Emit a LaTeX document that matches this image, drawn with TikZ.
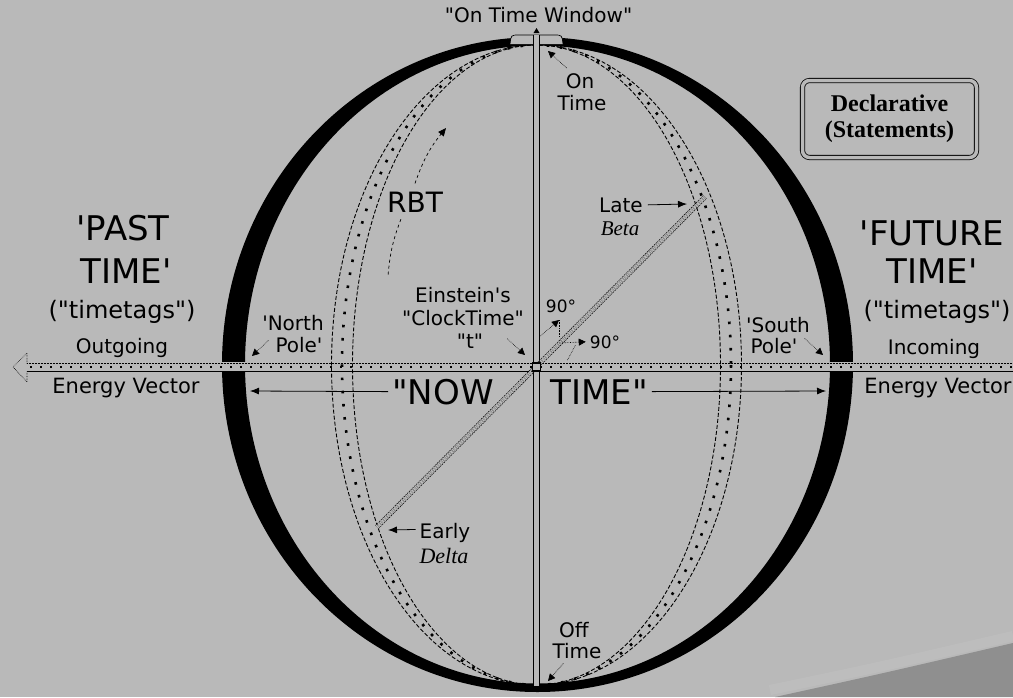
\documentclass[tikz,border=0pt]{standalone}
\usepackage{fontspec}
\setmainfont{DejaVu Sans}[Ligatures=TeXOff]
\newfontfamily\serifb{Liberation Serif}[Ligatures=TeXOff]
\usepackage{xcolor}
\usetikzlibrary{arrows.meta,positioning}
\definecolor{fond}{RGB}{185,185,185}
\definecolor{ombre}{RGB}{143,143,143}
\newcommand{\taille}[1]{\fontsize{#1}{#1}\selectfont}

\begin{document}
\begin{tikzpicture}[x=1pt,y=-1pt]
\tikzset{fleche/.style={-{Latex[length=9pt,width=7pt]}, line width=0.8pt},
  flecheP/.style={-{Triangle[length=7pt,width=7pt]}, densely dotted, line width=0.6pt},
  bord/.style={line width=0.9pt, dash pattern=on 4pt off 2pt},
  points/.style={line width=2.6pt, dash pattern=on 2.6pt off 10.6pt},
  etiq/.style={inner sep=0pt, anchor=base, font=\taille{20}},
  grand/.style={inner sep=0pt, anchor=base, font=\taille{34}}}
\useasboundingbox (0,0) rectangle (1013,697);
\fill[fond] (0,0) rectangle (1013,697);
\draw[white, opacity=0.07, line width=10pt] (770,690) .. controls (880,667) .. (1013,636);
\fill[ombre] (775,697) .. controls (880,674) .. (1013,643) -- (1013,697) -- cycle;
\fill[black, even odd rule] (537.5,364.5) ellipse [x radius=315.5, y radius=327.5]
  (537.5,364.5) ellipse [x radius=292.5, y radius=319];
\coordinate (axeG) at (27,367);
\coordinate (axeD) at (1013,367);
\coordinate (pointeG) at (13,367);
\draw[fond, line width=10pt] (axeG) -- (axeD);
\draw[bord] (536.5,365) ellipse [x radius=205, y radius=320];
\draw[bord] (536.5,365) ellipse [x radius=184, y radius=320];
\draw[points] (536.5,365) ellipse [x radius=194.5, y radius=320];
\draw[line width=0.5pt, densely dotted] ([shift={(0,-3.5)}]axeG) -- ([shift={(0,-3.5)}]axeD);
\draw[line width=2pt, dash pattern=on 2pt off 8pt] ([shift={(3,-0.5)}]axeG) -- ([shift={(0,-0.5)}]axeD);
\draw[line width=1.2pt] ([shift={(0,4.5)}]axeG) -- ([shift={(0,4.5)}]axeD);
\draw[line width=0.6pt, densely dotted] ([shift={(0,-3.5)}]axeG) -- (27,353) -- (pointeG) -- (27,382) -- ([shift={(0,4.5)}]axeG);
\coordinate (haut) at (536.5,35);
\coordinate (bas) at (536.5,686);
\draw[line width=0.7pt, fill=fond] (510,44) .. controls (511,35) .. (519,35) -- (554,35) .. controls (562,35) .. (563,44);
\fill (533.5,33) -- (536.5,28) -- (539.5,33) -- cycle;
\draw[line width=0.9pt, double=fond, double distance=5.5pt] (haut) -- (bas);
\coordinate (tardif) at (705,197);
\coordinate (precoce) at (377,527);
\draw[line width=0.6pt, dash pattern=on 1.5pt off 1pt, double=fond, double distance=3.6pt] (precoce) -- (tardif);
\node[draw, line width=1.6pt, fill=fond, minimum size=8pt, inner sep=0pt] (centre) at (536.5,367) {};
\node[grand] (now) at (443,404) {"NOW};
\node[grand] (time) at (599,404) {TIME"};
\coordinate (nowG) at (250,391);
\coordinate (timeD) at (826,391);
\draw[fleche] ([xshift=-4pt]now.west) -- (nowG);
\draw[fleche] ([xshift=4pt]time.east) -- (timeD);
\node[etiq] (fenetre) at (538.5,22) {"On Time Window"};
\node[etiq] (on) at (580,88) {On};
\node[etiq] (ontime) at (582,110) {Time};
\coordinate (onTip) at (548,51);
\draw[flecheP] ([shift={(1,-5)}]on.north west) -- (onTip);
\node[grand] (passe) at (123,240) {'PAST};
\node[grand] (passe2) at (126,283) {TIME'};
\node[etiq, font=\taille{24}] (tagsG) at (122,318) {("timetags")};
\node[etiq] (sortant) at (122,353) {Outgoing};
\node[etiq, font=\taille{21}] (vecteurG) at (126,393) {Energy Vector};
\node[grand] (futur) at (932,245) {'FUTURE};
\node[grand] (futur2) at (932,283) {TIME'};
\node[etiq, font=\taille{24}] (tagsD) at (937,318) {("timetags")};
\node[etiq] (entrant) at (934,354) {Incoming};
\node[etiq, font=\taille{21}] (vecteurD) at (938,393) {Energy Vector};
\node[etiq] (nord) at (293,330) {'North};
\node[etiq] (nord2) at (299,352) {Pole'};
\coordinate (nordTip) at (252,356);
\draw[flecheP] ([shift={(-7,-4)}]nord2.west) -- (nordTip);
\node[etiq] (einstein) at (463,302) {Einstein's};
\node[etiq] (horloge) at (463,325) {"ClockTime"};
\node[etiq] (tt) at (470,348) {"t"};
\coordinate (horlogeTip) at (525,355);
\draw[flecheP] ([shift={(24,-2)}]tt.east) -- (horlogeTip);
\node[etiq] (sud) at (778,332) {'South};
\node[etiq] (sud2) at (774,353) {Pole'};
\coordinate (sudTip) at (823,355);
\draw[flecheP] ([shift={(7,-7)}]sud2.east) -- (sudTip);
\node[etiq, font=\taille{17}] (angle1) at (561,312) {90°};
\node[etiq, font=\taille{17}] (angle2) at (605,348) {90°};
\coordinate (a1) at (559,320);
\coordinate (a2) at (559,343);
\draw[flecheP] ([shift={(4,-31)}]centre.center) -- (a1);
\draw[densely dotted, line width=0.6pt] (a1) -- ([shift={(0,-6)}]a2);
\draw[flecheP] (a2) -- ([xshift=-4pt]angle2.west);
\draw[densely dotted, line width=0.6pt] ([shift={(31,-7)}]centre.center) -- ([shift={(39,-22)}]centre.center);
\node[etiq, font=\taille{28}] (rbt) at (415,212) {RBT};
\coordinate (rbtBas) at (388,276);
\coordinate (rbtHaut) at (446,128);
\draw[dashed, line width=0.7pt] ([shift={(14,7)}]rbt.south west) to[bend right=8] (rbtBas);
\draw[dashed, line width=0.7pt, -{Triangle[length=8pt,width=7pt]}] ([shift={(0,-8)}]rbt.north) to[bend left=10] (rbtHaut);
\node[etiq] (tard) at (621,212) {Late};
\node[etiq, font=\serifb\itshape\taille{21}] (beta) at (620,235) {Beta};
\coordinate (tardTip) at (687,204);
\draw[fleche] ([xshift=5pt]tard.east) -- (tardTip);
\node[etiq] (tot) at (445,538) {Early};
\node[etiq, font=\serifb\itshape\taille{22}] (delta) at (444,563) {Delta};
\coordinate (totTip) at (388,530);
\draw[fleche] ([shift={(-4,-3)}]tot.west) -- (totTip);
\node[etiq] (off) at (574,637) {Off};
\node[etiq] (offtime) at (577,658) {Time};
\coordinate (offTip) at (548,681);
\draw[flecheP] ([shift={(11,5)}]offtime.south west) -- (offTip);
\node[draw, double=fond, double distance=3.5pt, line width=0.8pt, rounded corners=7pt,
  minimum width=174pt, minimum height=77pt, align=center, inner sep=0pt,
  font=\serifb\bfseries\fontsize{24}{26}\selectfont] (decl) at (889.5,119) {Declarative\\(Statements)};
\end{tikzpicture}
\end{document}
